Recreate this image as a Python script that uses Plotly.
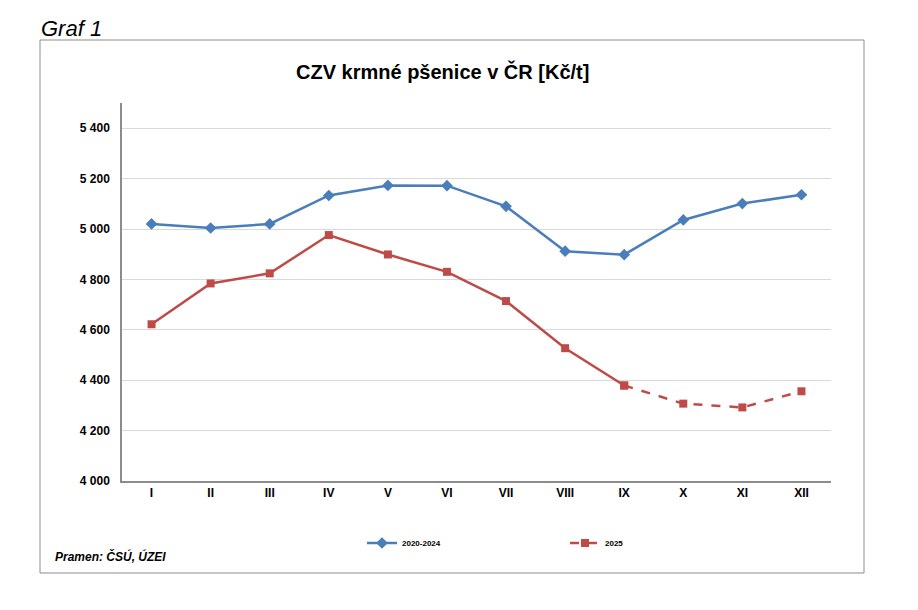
import plotly.graph_objects as go

# data
months = ['I', 'II', 'III', 'IV', 'V', 'VI', 'VII', 'VIII', 'IX', 'X', 'XI', 'XII']
avg_2020_2024 = [5020, 5004, 5020, 5133, 5173, 5172, 5090, 4912, 4898, 5036, 5101, 5136]
y2025_actual = [4622, 4784, 4824, 4976, 4899, 4830, 4714, 4527, 4379, None, None, None]
y2025_outlook = [None, None, None, None, None, None, None, None, 4379, 4307, 4292, 4356]
y_ticks = [4000, 4200, 4400, 4600, 4800, 5000, 5200, 5400]
y_labels = ['4 000', '4 200', '4 400', '4 600', '4 800', '5 000', '5 200', '5 400']

OFF = 8  # page body margin
W, H = 918 - 2 * OFF, 610 - 2 * OFF
L, R, T, B = 122, 831, 103, 481  # plot area in screen pixels


# screen pixel -> paper coords helpers
def px(x):
    return (x - L) / (R - L)


def py(y):
    return (B - y) / (B - T)


BLUE = '#4a7ebb'
RED = '#be4b48'
FONT = 'Liberation Sans, Arial, sans-serif'

fig = go.Figure()

fig.add_trace(go.Scatter(
    x=months, y=avg_2020_2024, name='2020-2024',
    mode='lines+markers',
    line=dict(color=BLUE, width=2.5),
    marker=dict(symbol='diamond', size=9, color=BLUE),
))

fig.add_trace(go.Scatter(
    x=months, y=y2025_actual, name='2025',
    mode='lines+markers',
    line=dict(color=RED, width=2.5),
    marker=dict(symbol='square', size=8, color=RED),
    showlegend=False,
))

fig.add_trace(go.Scatter(
    x=months, y=y2025_outlook, name='2025',
    mode='lines+markers',
    line=dict(color=RED, width=2.5, dash='dash'),
    marker=dict(symbol='square', size=8, color=RED),
))

fig.update_layout(
    width=W, height=H,
    margin=dict(l=L - OFF, r=W - (R - OFF), t=T - OFF, b=H - (B - OFF)),
    paper_bgcolor='white',
    plot_bgcolor='white',
    font=dict(family=FONT, color='black'),
    xaxis=dict(
        type='category',
        range=[-0.5, len(months) - 0.5],
        showgrid=False,
        showline=True, linecolor='#8c8c8c', linewidth=1.5,
        ticks='', tickfont=dict(size=12, family=FONT, weight='bold'),
    ),
    yaxis=dict(
        range=[4000, 5500],
        tickvals=y_ticks, ticktext=y_labels,
        showgrid=True, gridcolor='#d9d9d9', gridwidth=1,
        showline=True, linecolor='#8c8c8c', linewidth=1.5,
        zeroline=False,
        ticks='', ticklabelstandoff=8,
        tickfont=dict(size=12, family=FONT, weight='bold'),
    ),
    legend=dict(
        orientation='h',
        x=px(362), y=py(543), xanchor='left', yanchor='middle',
        entrywidth=158, entrywidthmode='pixels',
        itemwidth=30,
        font=dict(size=8, family=FONT, weight='bold'),
        bgcolor='rgba(0,0,0,0)',
    ),
    showlegend=True,
)

# outer frame
fig.add_shape(
    type='rect', xref='paper', yref='paper',
    x0=px(40), x1=px(864), y0=py(40), y1=py(573),
    line=dict(color='#8c8c8c', width=1),
)

fig.add_annotation(
    text='CZV krmné pšenice v ČR [Kč/t]',
    xref='paper', yref='paper', x=px(442), y=py(72),
    xanchor='center', yanchor='middle', showarrow=False,
    font=dict(size=20, family=FONT, weight='bold'),
)
fig.add_annotation(
    text='<i>Graf 1</i>',
    xref='paper', yref='paper', x=px(39), y=py(28),
    xanchor='left', yanchor='middle', showarrow=False,
    font=dict(size=22, family=FONT),
)
fig.add_annotation(
    text='<i>Pramen: ČSÚ, ÚZEI</i>',
    xref='paper', yref='paper', x=px(53), y=py(556),
    xanchor='left', yanchor='middle', showarrow=False,
    font=dict(size=12, family=FONT, weight='bold'),
)

fig.write_html('out.html')
